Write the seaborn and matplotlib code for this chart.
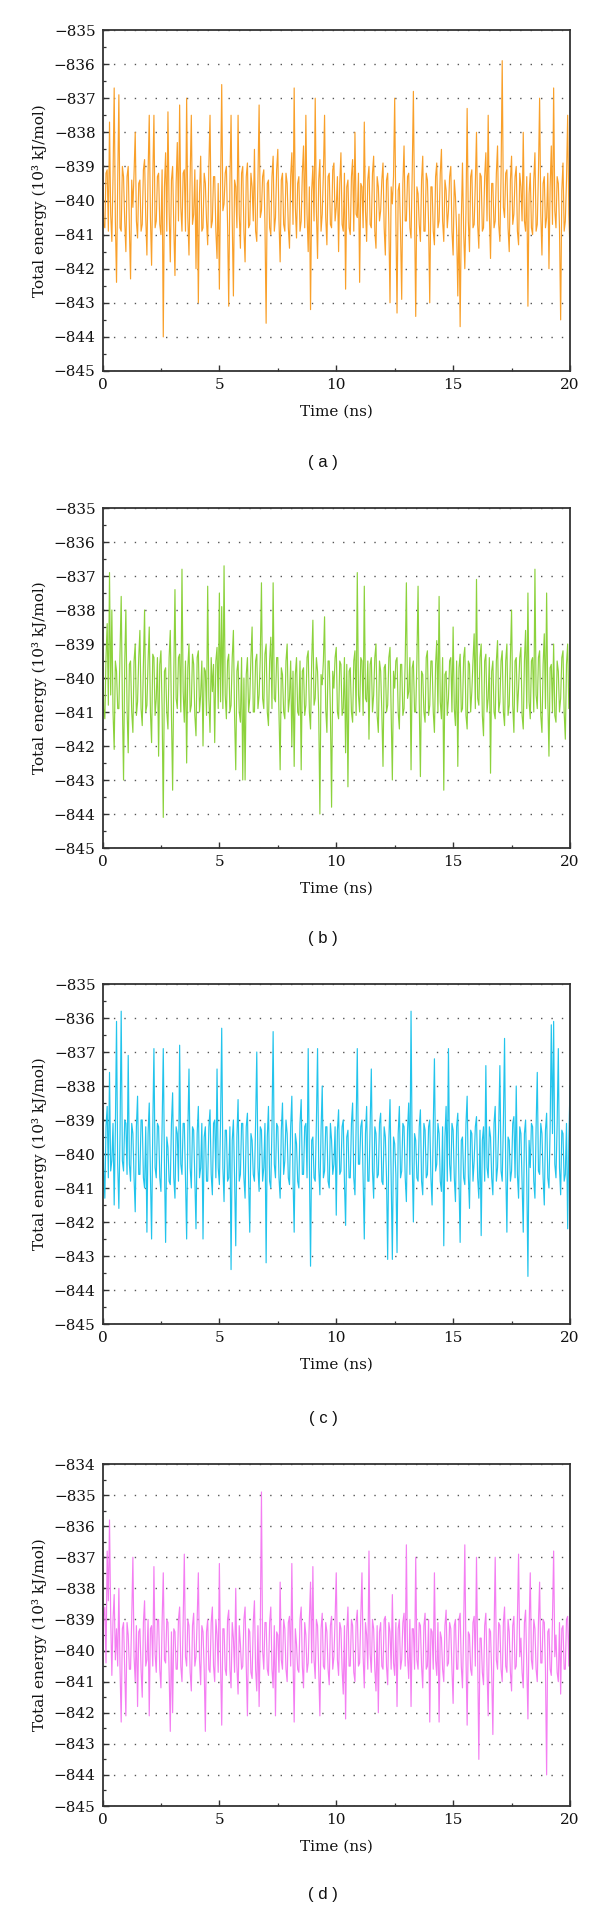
import numpy as np
import pandas as pd
import matplotlib
matplotlib.use("Agg")
import matplotlib.pyplot as plt
from matplotlib.ticker import MultipleLocator
import seaborn as sns

# ---------------- data (0.05 ns sampling) ----------------
time_ns = np.round(np.arange(401) * 0.05, 2)

energy_a = [
    -838.6, -840.7, -840.8, -839.2, -839.1, -840.9, -837.7, -840.4, -841.2, -839.3, -836.7, -840.6, -842.4, -839.5, -836.9, -840.8, -840.9, -839.0, -839.3, -840.6,
    -841.5, -839.3, -839.0, -840.8, -842.3, -839.4, -840.2, -839.2, -838.0, -840.6, -841.1, -839.5, -839.4, -840.9, -840.7, -839.1, -838.8, -840.5, -841.6, -839.2,
    -837.5, -840.5, -841.9, -839.4, -837.5, -840.8, -840.6, -839.3, -839.2, -840.7, -841.0, -839.1, -844.0, -839.6, -838.6, -840.9, -837.4, -840.3, -841.8, -839.4,
    -839.0, -840.8, -842.2, -839.5, -838.3, -840.6, -837.2, -840.2, -840.9, -839.2, -839.1, -840.9, -837.0, -840.5, -841.6, -839.3, -837.5, -840.7, -840.4, -839.1,
    -842.0, -839.4, -843.0, -839.8, -838.7, -840.9, -840.8, -839.2, -839.5, -840.6, -841.3, -839.0, -837.5, -840.8, -840.6, -839.3, -839.3, -840.9, -841.7, -839.5,
    -842.6, -839.7, -836.6, -840.3, -840.1, -839.2, -839.0, -840.7, -843.1, -839.5, -837.5, -840.6, -842.8, -839.4, -839.6, -840.8, -837.5, -840.4, -841.4, -839.2,
    -839.0, -840.9, -841.8, -839.3, -838.9, -840.8, -840.7, -839.2, -839.6, -840.6, -838.5, -840.9, -841.2, -839.4, -837.2, -840.5, -840.3, -839.3, -839.1, -840.7,
    -843.6, -839.5, -839.4, -840.8, -841.0, -839.3, -838.7, -840.9, -840.5, -839.1, -838.5, -840.6, -841.8, -839.4, -839.2, -840.7, -840.9, -839.2, -839.5, -840.8,
    -841.4, -839.3, -838.6, -840.7, -836.7, -840.2, -841.1, -839.5, -839.3, -840.9, -840.6, -839.2, -838.4, -840.8, -837.5, -840.4, -841.5, -839.6, -843.2, -839.7,
    -839.0, -840.6, -837.0, -840.3, -841.7, -839.4, -838.8, -840.9, -840.4, -839.2, -837.5, -840.5, -841.3, -839.3, -839.2, -840.7, -840.8, -839.1, -838.9, -840.6,
    -840.2, -839.3, -841.5, -839.5, -838.6, -840.7, -840.9, -839.2, -842.6, -839.6, -839.4, -840.8, -841.0, -839.3, -838.8, -840.9, -838.0, -840.4, -840.5, -839.2,
    -842.4, -839.5, -839.6, -840.8, -837.7, -840.3, -841.2, -839.4, -839.0, -840.7, -840.8, -839.2, -838.7, -840.9, -841.4, -839.3, -839.6, -840.6, -840.3, -839.4,
    -838.9, -840.8, -841.6, -839.4, -839.2, -840.7, -843.0, -839.6, -840.1, -839.3, -837.0, -840.5, -843.3, -839.7, -839.5, -840.9, -842.9, -839.5, -838.4, -840.6,
    -840.6, -839.3, -839.2, -840.8, -841.1, -839.2, -836.8, -840.4, -843.4, -839.6, -839.8, -840.7, -841.2, -839.4, -838.7, -840.9, -840.9, -839.2, -839.4, -840.7,
    -843.0, -839.6, -839.6, -840.9, -841.3, -839.3, -838.9, -840.8, -840.6, -839.2, -838.5, -840.6, -841.2, -839.4, -839.7, -840.8, -840.3, -839.3, -839.0, -840.9,
    -841.6, -839.4, -839.9, -840.9, -842.8, -840.4, -843.7, -840.6, -838.9, -840.9, -842.0, -840.3, -837.3, -840.6, -841.5, -839.3, -839.1, -840.8, -840.7, -839.5,
    -838.0, -840.7, -841.4, -839.2, -839.3, -840.9, -840.8, -839.3, -838.6, -840.6, -837.5, -840.4, -841.7, -839.5, -839.5, -840.8, -840.6, -839.2, -838.4, -840.7,
    -841.2, -839.3, -835.9, -840.2, -840.5, -839.2, -839.1, -840.8, -841.5, -839.4, -838.7, -840.7, -840.4, -839.3, -839.0, -840.9, -841.3, -839.2, -839.6, -840.6,
    -838.0, -840.6, -840.9, -839.3, -843.1, -839.8, -839.2, -840.8, -841.0, -839.4, -838.6, -840.9, -840.7, -839.2, -837.0, -840.4, -841.6, -839.5, -839.3, -840.8,
    -840.5, -839.2, -842.0, -839.6, -838.4, -840.7, -836.7, -840.3, -840.8, -839.3, -839.5, -840.8, -843.5, -839.7, -838.9, -840.9, -840.6, -839.4, -837.5, -840.4,
    -841.5,
]

energy_b = [
    -839.0, -840.9, -841.2, -839.4, -838.4, -840.8, -836.9, -840.5, -838.0, -841.0, -842.1, -839.5, -839.8, -840.9, -840.9, -839.3, -837.6, -840.7, -843.0, -839.6,
    -838.0, -840.9, -842.2, -839.6, -839.5, -841.0, -841.6, -839.5, -839.0, -841.1, -840.7, -839.4, -838.6, -840.9, -841.4, -839.6, -838.0, -841.0, -840.8, -839.5,
    -838.5, -841.0, -841.9, -839.3, -839.4, -841.1, -840.6, -839.4, -842.3, -839.6, -839.2, -840.9, -844.1, -839.8, -839.7, -841.0, -841.5, -839.4, -838.6, -841.1,
    -843.3, -839.9, -837.4, -840.6, -840.9, -839.4, -839.3, -841.0, -836.8, -840.4, -841.3, -839.5, -842.5, -839.7, -839.0, -841.0, -840.8, -839.3, -839.6, -841.1,
    -841.7, -839.4, -839.2, -841.0, -840.5, -839.5, -842.0, -839.7, -839.8, -841.1, -837.3, -840.6, -841.6, -839.4, -840.4, -839.6, -841.9, -839.5, -839.1, -840.9,
    -837.5, -840.7, -837.9, -840.9, -836.7, -840.5, -841.2, -839.5, -839.3, -841.0, -840.8, -839.4, -838.6, -841.1, -842.7, -839.8, -839.5, -841.0, -841.3, -839.4,
    -843.0, -840.0, -843.0, -839.9, -839.4, -841.0, -840.6, -839.4, -838.5, -841.0, -841.0, -839.5, -839.3, -840.9, -840.5, -839.4, -837.2, -840.6, -840.9, -839.3,
    -839.0, -841.0, -841.4, -839.5, -838.8, -840.9, -837.2, -840.6, -840.7, -839.4, -839.4, -841.1, -842.7, -839.7, -839.9, -841.0, -841.2, -839.5, -839.0, -841.0,
    -840.6, -839.5, -842.0, -839.8, -842.6, -839.9, -839.4, -841.0, -841.1, -839.5, -842.7, -839.8, -839.7, -841.1, -840.8, -839.4, -839.2, -841.0, -841.5, -839.5,
    -838.3, -840.8, -840.6, -839.4, -839.8, -841.0, -844.0, -839.9, -840.2, -839.5, -838.2, -840.9, -841.6, -839.5, -839.5, -841.0, -843.8, -839.8, -840.3, -839.4,
    -839.1, -841.0, -841.2, -839.5, -839.6, -841.1, -840.9, -839.4, -842.2, -839.6, -843.2, -839.8, -839.7, -841.0, -841.3, -839.5, -839.2, -841.1, -836.9, -840.5,
    -841.0, -839.4, -839.5, -841.1, -837.3, -840.6, -840.7, -839.5, -841.8, -839.6, -839.4, -841.0, -840.5, -839.4, -839.0, -841.1, -841.6, -839.5, -839.8, -841.0,
    -842.6, -839.7, -839.6, -841.0, -840.8, -839.4, -839.1, -841.1, -843.0, -839.8, -840.3, -839.5, -839.4, -841.0, -841.5, -839.6, -839.6, -841.1, -840.9, -839.5,
    -837.2, -840.6, -840.4, -839.4, -842.7, -839.7, -839.5, -841.0, -841.0, -839.5, -837.3, -840.7, -842.9, -839.8, -839.9, -841.0, -841.3, -839.4, -839.2, -841.1,
    -840.8, -839.5, -839.5, -841.0, -841.6, -839.6, -838.9, -841.0, -837.6, -840.7, -841.2, -839.4, -843.3, -839.9, -839.8, -841.1, -840.6, -839.5, -839.4, -841.0,
    -838.5, -840.9, -841.4, -839.5, -842.6, -839.7, -839.3, -841.0, -840.9, -839.4, -839.1, -841.1, -841.5, -839.5, -839.6, -841.0, -840.4, -839.5, -838.7, -840.9,
    -837.1, -840.6, -840.8, -839.4, -839.0, -841.1, -841.7, -839.5, -839.3, -841.0, -840.6, -839.4, -842.8, -839.8, -839.5, -841.0, -841.2, -839.5, -838.9, -841.0,
    -840.7, -839.5, -839.2, -841.0, -841.4, -839.5, -839.0, -841.1, -840.8, -839.4, -838.0, -840.8, -841.6, -839.5, -839.4, -841.0, -840.3, -839.4, -839.1, -841.1,
    -841.5, -839.5, -838.6, -840.9, -837.5, -840.7, -841.2, -839.5, -839.4, -841.0, -836.8, -840.5, -840.9, -839.4, -839.2, -841.1, -841.6, -839.6, -838.7, -840.9,
    -837.5, -840.6, -842.3, -839.7, -839.6, -841.0, -839.0, -841.1, -841.3, -839.5, -839.8, -841.0, -840.6, -839.4, -839.2, -841.0, -841.8, -839.6, -839.0, -840.9,
    -840.3,
]

energy_c = [
    -837.5, -840.4, -841.3, -839.2, -838.6, -840.7, -837.6, -840.5, -840.2, -839.1, -841.5, -839.3, -836.1, -840.3, -841.6, -839.4, -835.8, -840.2, -840.5, -839.0,
    -839.1, -840.6, -837.1, -840.3, -840.8, -839.1, -839.4, -840.7, -841.7, -839.2, -838.3, -840.6, -840.6, -839.0, -839.0, -840.7, -841.0, -839.2, -842.3, -839.4,
    -838.5, -840.6, -842.5, -839.3, -836.9, -840.4, -840.7, -839.1, -839.2, -840.7, -841.1, -839.2, -836.9, -840.3, -842.6, -839.5, -839.8, -840.8, -840.9, -839.1,
    -838.2, -840.7, -841.3, -839.2, -839.4, -840.8, -836.8, -840.3, -840.6, -839.1, -839.1, -840.7, -842.5, -839.4, -837.5, -840.4, -841.0, -839.2, -839.3, -840.7,
    -842.2, -839.4, -838.6, -840.7, -840.4, -839.1, -842.5, -839.5, -839.2, -840.8, -840.8, -839.2, -838.7, -840.6, -841.2, -839.1, -839.0, -840.7, -837.5, -840.4,
    -840.9, -839.1, -836.3, -840.4, -841.4, -839.3, -839.3, -840.8, -840.7, -839.2, -843.4, -839.6, -839.0, -840.7, -842.7, -839.5, -838.4, -840.8, -840.6, -839.1,
    -839.1, -840.7, -841.3, -839.2, -838.8, -840.8, -842.3, -839.4, -839.6, -840.6, -840.8, -839.1, -837.0, -840.4, -841.1, -839.2, -839.3, -840.8, -840.4, -839.1,
    -843.2, -839.5, -838.6, -840.8, -841.0, -839.2, -836.4, -840.3, -840.7, -839.1, -839.2, -840.7, -841.3, -839.3, -838.5, -840.6, -840.2, -839.0, -839.4, -840.7,
    -840.9, -839.2, -838.3, -840.7, -842.3, -839.4, -839.7, -840.8, -841.0, -839.1, -838.4, -840.6, -840.6, -839.2, -839.1, -840.7, -836.9, -840.3, -843.3, -839.6,
    -839.5, -840.7, -840.8, -839.1, -836.9, -840.4, -841.2, -839.3, -838.0, -840.7, -840.5, -839.2, -839.2, -840.8, -841.0, -839.1, -839.6, -840.6, -840.3, -839.2,
    -841.8, -839.3, -838.7, -840.6, -840.5, -839.2, -839.0, -840.8, -842.1, -839.5, -839.3, -840.7, -840.7, -839.1, -838.5, -840.7, -841.2, -839.2, -836.9, -840.3,
    -840.3, -839.2, -839.0, -840.7, -842.5, -839.4, -838.6, -840.8, -840.8, -839.1, -837.5, -840.5, -841.3, -839.2, -839.4, -840.7, -840.6, -839.1, -838.8, -840.8,
    -840.9, -839.2, -839.5, -840.7, -843.1, -839.6, -838.4, -840.8, -843.1, -839.5, -839.7, -840.6, -842.9, -839.4, -838.6, -840.7, -840.5, -839.1, -839.2, -840.7,
    -841.4, -839.3, -838.5, -840.6, -835.8, -840.2, -842.0, -839.4, -839.6, -840.7, -840.8, -839.2, -838.7, -840.8, -841.2, -839.1, -839.3, -840.7, -840.6, -839.2,
    -839.0, -840.7, -841.5, -839.2, -837.2, -840.5, -840.3, -839.1, -839.4, -840.8, -841.1, -839.2, -842.7, -839.5, -838.6, -840.8, -836.9, -840.3, -840.8, -839.1,
    -839.3, -840.7, -841.4, -839.2, -838.8, -840.8, -842.6, -839.6, -839.5, -840.7, -840.9, -839.1, -838.3, -840.6, -841.6, -839.3, -839.4, -840.8, -840.2, -839.2,
    -838.9, -840.7, -841.3, -839.3, -842.4, -839.6, -839.2, -840.8, -837.4, -840.4, -840.7, -839.2, -839.5, -840.7, -841.2, -839.1, -838.6, -840.8, -840.4, -839.2,
    -837.4, -840.5, -840.8, -839.1, -836.6, -840.4, -842.3, -839.5, -839.6, -840.8, -840.5, -839.1, -838.9, -840.7, -838.0, -840.6, -841.3, -839.2, -839.4, -840.8,
    -842.3, -839.4, -839.0, -840.7, -843.6, -839.6, -840.4, -839.1, -839.2, -840.8, -841.3, -839.2, -837.6, -840.5, -840.6, -839.1, -839.4, -840.7, -841.5, -839.3,
    -838.8, -840.7, -841.0, -839.2, -836.2, -839.4, -836.1, -840.3, -840.7, -839.1, -836.9, -840.4, -841.2, -839.3, -839.4, -840.8, -840.6, -839.1, -842.2, -839.6,
    -838.0,
]

energy_d = [
    -840.5, -838.9, -838.6, -840.4, -836.8, -838.4, -835.8, -838.9, -840.8, -839.0, -838.2, -840.3, -839.3, -840.5, -838.0, -840.6, -842.3, -839.3, -839.1, -840.6,
    -842.1, -839.1, -839.5, -840.6, -840.6, -839.0, -837.0, -840.2, -841.0, -839.2, -841.8, -839.4, -839.3, -840.6, -841.5, -839.1, -838.4, -840.5, -840.3, -839.0,
    -842.1, -839.3, -839.2, -840.5, -837.3, -840.1, -840.7, -839.0, -839.0, -840.6, -841.2, -839.1, -837.5, -840.3, -840.4, -839.0, -839.1, -840.7, -842.6, -839.4,
    -842.0, -839.3, -839.4, -840.6, -840.6, -839.0, -838.6, -840.5, -841.0, -839.1, -836.9, -840.2, -840.5, -839.0, -839.2, -840.7, -841.3, -839.2, -838.8, -840.5,
    -840.2, -839.0, -837.5, -840.3, -841.1, -839.2, -839.4, -840.6, -842.6, -839.4, -839.0, -840.6, -840.7, -839.1, -838.6, -840.5, -841.0, -839.0, -839.5, -840.7,
    -837.2, -840.4, -842.4, -839.3, -839.3, -840.6, -840.8, -839.0, -838.7, -840.6, -841.2, -839.1, -839.6, -840.7, -838.0, -840.5, -841.4, -839.2, -839.8, -840.6,
    -840.5, -839.0, -838.6, -840.5, -842.1, -839.3, -839.4, -840.7, -840.9, -839.1, -838.4, -840.6, -841.3, -839.2, -841.8, -839.4, -834.9, -840.0, -840.6, -839.1,
    -839.1, -840.6, -840.8, -839.1, -838.6, -840.6, -841.2, -839.2, -842.1, -839.4, -839.5, -840.7, -837.8, -840.3, -840.6, -839.0, -839.3, -840.6, -841.0, -839.1,
    -838.9, -840.5, -837.2, -840.2, -842.3, -839.3, -839.8, -840.6, -840.7, -839.0, -838.6, -840.5, -841.2, -839.1, -839.5, -840.7, -840.4, -839.0, -837.8, -840.4,
    -837.3, -840.3, -840.9, -839.0, -839.2, -840.7, -842.1, -839.3, -838.8, -840.5, -840.6, -839.1, -839.4, -840.6, -841.1, -839.2, -838.9, -840.6, -840.2, -839.0,
    -837.5, -840.3, -840.8, -839.1, -839.3, -840.6, -841.4, -839.2, -842.2, -839.4, -838.6, -840.5, -840.5, -839.0, -839.2, -840.7, -841.0, -839.1, -838.7, -840.5,
    -840.4, -839.0, -837.5, -840.2, -841.2, -839.1, -839.5, -840.6, -836.8, -840.1, -840.7, -839.0, -839.3, -840.6, -841.3, -839.2, -842.0, -839.4, -839.1, -840.5,
    -840.6, -839.0, -838.9, -840.5, -841.1, -839.1, -839.4, -840.6, -838.2, -840.4, -840.8, -839.1, -841.8, -839.3, -839.0, -840.6, -840.3, -839.1, -838.8, -840.5,
    -836.6, -840.2, -840.9, -839.0, -841.8, -839.3, -839.3, -840.6, -837.0, -840.3, -840.6, -839.1, -839.2, -840.5, -841.2, -839.2, -838.8, -840.6, -840.5, -839.0,
    -842.3, -839.3, -839.4, -840.6, -837.5, -840.3, -840.8, -839.1, -842.3, -839.4, -839.6, -840.6, -841.0, -839.2, -838.7, -840.5, -840.4, -839.1, -839.3, -840.6,
    -841.7, -839.2, -839.0, -840.6, -840.6, -839.0, -838.8, -840.5, -841.2, -839.3, -836.6, -840.2, -842.4, -839.4, -839.5, -840.6, -840.8, -839.1, -838.9, -840.5,
    -837.0, -840.3, -843.5, -839.6, -839.6, -840.7, -841.1, -839.2, -838.8, -840.6, -842.1, -839.3, -839.4, -840.7, -842.7, -839.5, -837.0, -840.3, -840.6, -839.1,
    -839.2, -840.6, -841.0, -839.1, -838.6, -840.5, -840.7, -839.0, -839.4, -840.7, -841.3, -839.2, -838.9, -840.6, -840.5, -839.0, -836.9, -840.2, -839.6, -840.7,
    -841.2, -839.1, -838.7, -840.5, -842.2, -839.3, -837.5, -840.3, -840.6, -839.0, -839.3, -840.6, -841.0, -839.1, -837.8, -840.4, -840.4, -839.0, -839.1, -840.6,
    -844.0, -839.4, -839.3, -840.6, -840.8, -839.0, -836.8, -840.2, -839.5, -840.7, -841.0, -839.1, -841.4, -839.3, -839.2, -840.6, -840.6, -839.0, -838.9, -840.5,
    -838.3,
]

panel_labels = ["( a )", "( b )", "( c )", "( d )"]
panel_colors = ["#F9A02A", "#8CD23C", "#22C4EC", "#F47EF2"]
y_limits = [(-845, -835), (-845, -835), (-845, -835), (-845, -834)]
x_ticks = [0, 5, 10, 15, 20]
x_label = "Time (ns)"
y_label = "Total energy (10³ kJ/mol)"

# ---------------- styling ----------------
sns.set_theme(style="ticks")
plt.rcParams["font.family"] = ["DejaVu Serif"]
plt.rcParams["axes.unicode_minus"] = True

fig = plt.figure(figsize=(6.0, 19.12), dpi=100)
W, H = 600.0, 1912.0
left_px, right_px = 102.5, 570.0
panel_px = [(30, 371), (508, 848), (984, 1324), (1464, 1806)]
caption_y_px = [462, 939, 1418, 1895]

series = [energy_a, energy_b, energy_c, energy_d]
spine_col = "#333333"

for i, (top, bot) in enumerate(panel_px):
    ax = fig.add_axes([left_px / W, (H - bot) / H, (right_px - left_px) / W, (bot - top) / H])
    df = pd.DataFrame({"time": time_ns, "energy": series[i]})
    sns.lineplot(data=df, x="time", y="energy", ax=ax, color=panel_colors[i],
                 linewidth=0.85, estimator=None, sort=False)
    lo, hi = y_limits[i]
    ax.set_xlim(0, 20)
    ax.set_ylim(lo, hi)
    ax.set_xticks(x_ticks)
    ax.set_yticks(np.arange(lo, hi + 1, 1))
    ax.xaxis.set_minor_locator(MultipleLocator(2.5))
    ax.yaxis.set_minor_locator(MultipleLocator(0.5))
    ax.grid(True, axis="y", which="major", linestyle=(0, (1, 6.5)),
            color="#555555", linewidth=1.0)
    ax.set_axisbelow(True)
    for s in ax.spines.values():
        s.set_color(spine_col)
        s.set_linewidth(1.3)
        s.set_visible(True)
    ax.tick_params(axis="both", which="major", direction="in", length=4,
                   width=1.0, color=spine_col, labelsize=11,
                   labelcolor="#111111", top=False, right=False)
    ax.tick_params(axis="x", which="major", pad=5)
    ax.tick_params(axis="y", which="major", pad=5)
    ax.tick_params(axis="both", which="minor", direction="in", length=2.5,
                   width=0.9, color=spine_col, top=False, right=False)
    ax.set_xlabel(x_label, fontsize=11, labelpad=9, color="#111111")
    ax.set_ylabel(y_label, fontsize=11, labelpad=5, color="#111111")
    fig.text(323 / W, 1 - caption_y_px[i] / H, panel_labels[i], ha="center",
             va="center", fontsize=12, family=["Liberation Sans", "DejaVu Sans"],
             color="#111111")

fig.savefig("out.png", dpi=100, facecolor="white")
